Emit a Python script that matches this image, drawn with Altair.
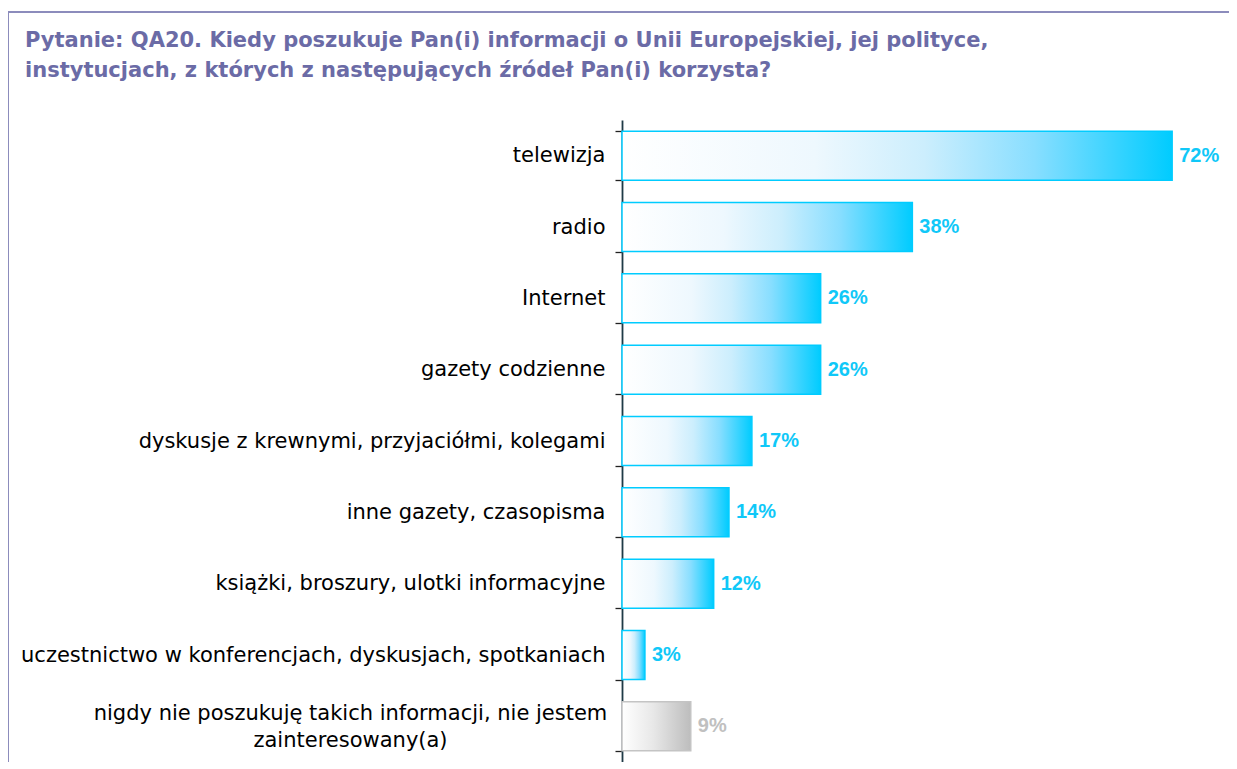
import altair as alt
import pandas as pd

categories = [
    "telewizja",
    "radio",
    "Internet",
    "gazety codzienne",
    "dyskusje z krewnymi, przyjaciółmi, kolegami",
    "inne gazety, czasopisma",
    "książki, broszury, ulotki informacyjne",
    "uczestnictwo w konferencjach, dyskusjach, spotkaniach",
    "nigdy nie poszukuję takich informacji, nie jestem zainteresowany(a)",
]
values = [72, 38, 26, 26, 17, 14, 12, 3, 9]
groups = ["cyan"] * 8 + ["gray"]
title_lines = [
    "Pytanie: QA20. Kiedy poszukuje Pan(i) informacji o Unii Europejskiej, jej polityce,",
    "instytucjach, z których z następujących źródeł Pan(i) korzysta?",
]
last_label = categories[-1]
last_lines = ["nigdy nie poszukuję takich informacji, nie jestem", "zainteresowany(a)"]

df = pd.DataFrame({
    "cat": categories,
    "val": values,
    "grp": groups,
    "txt": [f"{v}%" for v in values],
})

CYAN = "#00ccff"
GRAY = "#c4c4c4"

cyan_grad = alt.Gradient(
    gradient="linear", x1=0, x2=1, y1=0, y2=0,
    stops=[
        alt.GradientStop(color="#ffffff", offset=0),
        alt.GradientStop(color="#eef8fe", offset=0.35),
        alt.GradientStop(color="#cceefd", offset=0.55),
        alt.GradientStop(color="#88deff", offset=0.75),
        alt.GradientStop(color="#00ccff", offset=1),
    ],
)
gray_grad = alt.Gradient(
    gradient="linear", x1=0, x2=1, y1=0, y2=0,
    stops=[
        alt.GradientStop(color="#ffffff", offset=0),
        alt.GradientStop(color="#e8e8e8", offset=0.45),
        alt.GradientStop(color="#bdbdbd", offset=1),
    ],
)

W = 596
H = 642

test = "datum.value == '" + last_label + "'"
label_expr = (
    test + " ? ['" + last_lines[0] + "', '" + last_lines[1] + "'] : datum.label"
)

x_enc = alt.X("val:Q", scale=alt.Scale(domain=[0, 78], nice=False, zero=True), axis=None)
y_enc = alt.Y(
    "cat:N",
    sort=categories,
    scale=alt.Scale(paddingInner=0.313, paddingOuter=0.1565),
    axis=alt.Axis(
        title=None,
        labelFont="DejaVu Sans",
        labelFontSize=21,
        labelColor="#000000",
        labelLimit=0,
        labelLineHeight=27,
        labelExpr=label_expr,
        labelAlign={"condition": {"test": test, "value": "center"}, "value": "right"},
        labelPadding={"condition": {"test": test, "value": 265}, "value": 10},
        labelOffset={"condition": {"test": test, "value": -13}, "value": 0},
        tickSize=7,
        tickColor="#222222",
        tickWidth=1.3,
        tickBand="extent",
        domainColor="#1f3a46",
        domainWidth=1.8,
        grid=False,
    ),
)

base = alt.Chart(df).encode(x=x_enc, y=y_enc)

frame = alt.Chart(pd.DataFrame({"a": [0]})).mark_rect(
    fill=None, stroke="#8c8cbc", strokeWidth=2
).encode(
    x=alt.value(-614), x2=alt.value(W + 40),
    y=alt.value(-108), y2=alt.value(H + 40),
)

bars_c = base.transform_filter("datum.grp == 'cyan'").mark_bar(
    color=cyan_grad, stroke=CYAN, strokeWidth=1.5
)
bars_g = base.transform_filter("datum.grp == 'gray'").mark_bar(
    color=gray_grad, stroke=GRAY, strokeWidth=1.5
)
txt_c = base.transform_filter("datum.grp == 'cyan'").mark_text(
    align="left", baseline="middle", dx=7, font="Liberation Sans",
    fontWeight="bold", fontSize=20, color="#10c8f8"
).encode(text="txt:N")
txt_g = base.transform_filter("datum.grp == 'gray'").mark_text(
    align="left", baseline="middle", dx=7, font="Liberation Sans",
    fontWeight="bold", fontSize=20, color="#c0c0c0"
).encode(text="txt:N")

chart = alt.layer(frame, bars_c, bars_g, txt_c, txt_g).properties(
    width=W,
    height=H,
    padding={"left": 614, "top": 112, "right": 11, "bottom": 0},
    autosize=alt.AutoSizeParams(type="none"),
    title=alt.TitleParams(
        text=title_lines,
        anchor="start",
        frame="group",
        dx=-597,
        dy=87,
        baseline="alphabetic",
        font="DejaVu Sans",
        fontSize=21,
        fontWeight="bold",
        color="#6b6ba6",
        lineHeight=30,
        offset=0,
    ),
).configure_view(stroke=None)

chart.save("out.html", embed_options={"renderer": "svg", "actions": False})
